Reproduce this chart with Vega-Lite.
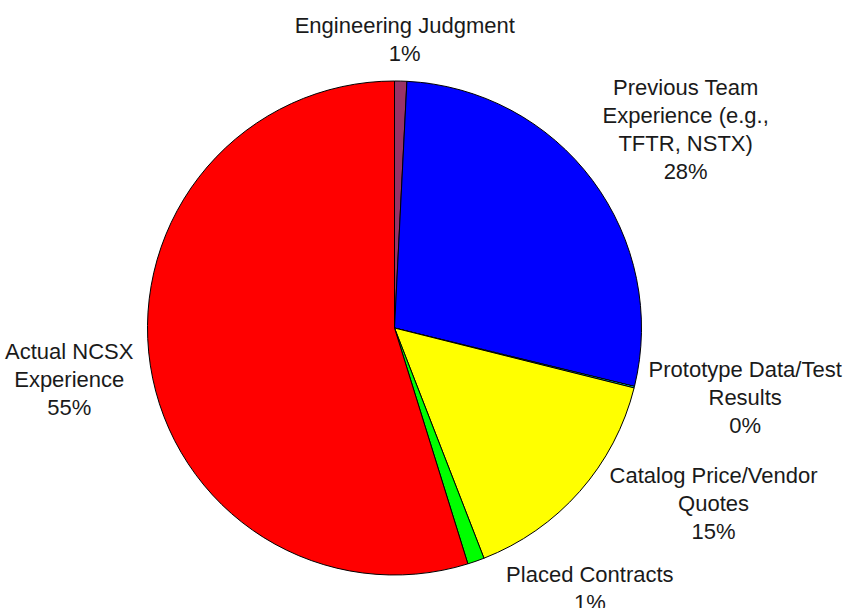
{
  "$schema": "https://vega.github.io/schema/vega-lite/v6.json",
  "width": 789,
  "height": 556,
  "autosize": {"type": "none"},
  "padding": {"left": 0, "top": 50, "right": 63, "bottom": 2},
  "background": "white",
  "config": {"view": {"stroke": null}},
  "data": {
    "values": [
      {"idx": 1, "cat": "Engineering Judgment", "value": 0.8, "label": "Engineering Judgment\n1%"},
      {"idx": 2, "cat": "Previous Team Experience", "value": 28.0, "label": "Previous Team\nExperience (e.g.,\nTFTR, NSTX)\n28%"},
      {"idx": 3, "cat": "Prototype Data/Test Results", "value": 0.1, "label": "Prototype Data/Test\nResults\n0%"},
      {"idx": 4, "cat": "Catalog Price/Vendor Quotes", "value": 15.2, "label": "Catalog Price/Vendor\nQuotes\n15%"},
      {"idx": 5, "cat": "Placed Contracts", "value": 1.1, "label": "Placed Contracts\n1%"},
      {"idx": 6, "cat": "Actual NCSX Experience", "value": 54.8, "label": "Actual NCSX\nExperience\n55%"}
    ]
  },
  "encoding": {
    "theta": {"field": "value", "type": "quantitative", "stack": true},
    "order": {"field": "idx", "type": "quantitative"}
  },
  "layer": [
    {
      "mark": {"type": "arc", "outerRadius": 247, "stroke": "#000000", "strokeWidth": 1},
      "encoding": {
        "color": {
          "field": "cat",
          "type": "nominal",
          "scale": {
            "domain": ["Engineering Judgment", "Previous Team Experience", "Prototype Data/Test Results", "Catalog Price/Vendor Quotes", "Placed Contracts", "Actual NCSX Experience"],
            "range": ["#993366", "#0000FF", "#00FFFF", "#FFFF00", "#00FF00", "#FF0000"]
          },
          "legend": null
        }
      }
    },
    {
      "mark": {"type": "text", "radius": 288, "dx": 3, "dy": -14, "font": "Liberation Sans", "fontSize": 22, "lineHeight": 28, "lineBreak": "\n", "align": "center", "baseline": "middle", "fill": "#1a1a1a"},
      "encoding": {"text": {"condition": {"test": "datum.idx === 1", "field": "label"}, "value": ""}}
    },
    {
      "mark": {"type": "text", "radius": 352, "dx": 9, "dy": -30, "font": "Liberation Sans", "fontSize": 22, "lineHeight": 28, "lineBreak": "\n", "align": "center", "baseline": "middle", "fill": "#1a1a1a"},
      "encoding": {"text": {"condition": {"test": "datum.idx === 2", "field": "label"}, "value": ""}}
    },
    {
      "mark": {"type": "text", "radius": 355, "dx": 6, "dy": -43, "font": "Liberation Sans", "fontSize": 22, "lineHeight": 28, "lineBreak": "\n", "align": "center", "baseline": "middle", "fill": "#1a1a1a"},
      "encoding": {"text": {"condition": {"test": "datum.idx === 3", "field": "label"}, "value": ""}}
    },
    {
      "mark": {"type": "text", "radius": 360, "dx": 49, "dy": -90, "font": "Liberation Sans", "fontSize": 22, "lineHeight": 28, "lineBreak": "\n", "align": "center", "baseline": "middle", "fill": "#1a1a1a"},
      "encoding": {"text": {"condition": {"test": "datum.idx === 4", "field": "label"}, "value": ""}}
    },
    {
      "mark": {"type": "text", "radius": 280, "dx": 103, "dy": -17, "font": "Liberation Sans", "fontSize": 22, "lineHeight": 28, "lineBreak": "\n", "align": "center", "baseline": "middle", "fill": "#1a1a1a"},
      "encoding": {"text": {"condition": {"test": "datum.idx === 5", "field": "label"}, "value": ""}}
    },
    {
      "mark": {"type": "text", "radius": 330, "dx": 1, "dy": -26, "font": "Liberation Sans", "fontSize": 22, "lineHeight": 28, "lineBreak": "\n", "align": "center", "baseline": "middle", "fill": "#1a1a1a"},
      "encoding": {"text": {"condition": {"test": "datum.idx === 6", "field": "label"}, "value": ""}}
    }
  ]
}
